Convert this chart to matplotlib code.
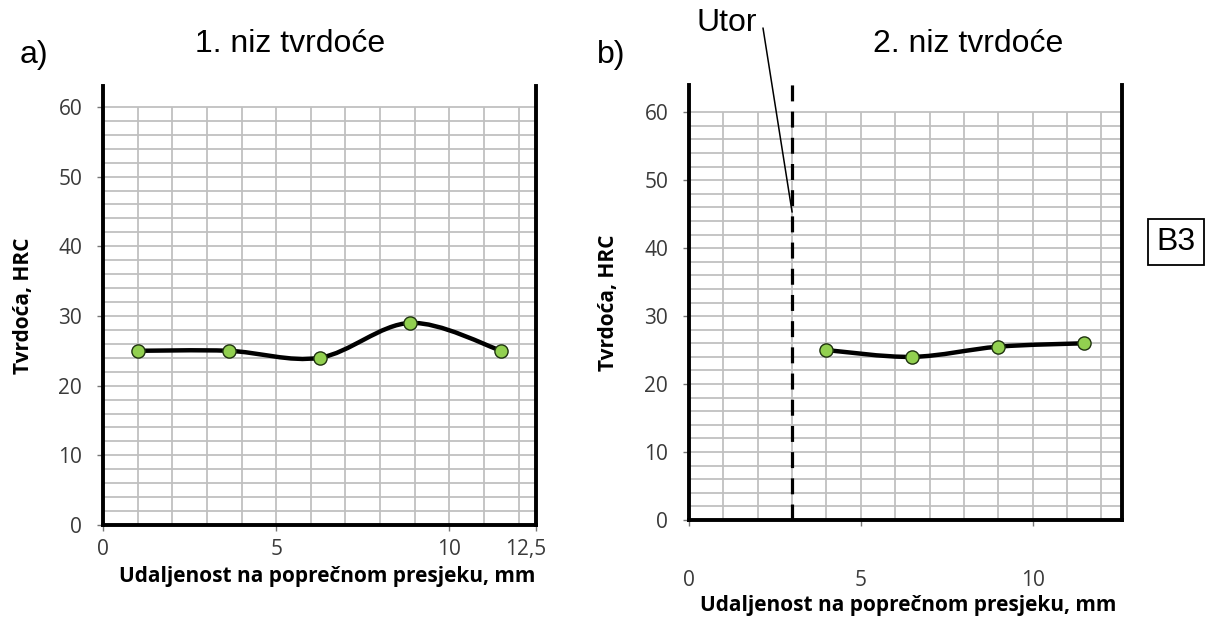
import numpy as np
import matplotlib
matplotlib.use('Agg')
import matplotlib.pyplot as plt
from matplotlib.path import Path
from matplotlib.patches import PathPatch
from matplotlib.transforms import ScaledTranslation

# data
x_a = [1.0, 3.625, 6.25, 8.875, 11.5]
hrc_a = [25, 25, 24, 29, 25]
x_b = [4.0, 6.5, 9.0, 11.5]
hrc_b = [25, 24, 25.5, 26]
utor_x = 3
x_ticks_a = [0, 5, 10, 12.5]
x_tick_labels_a = ['0', '5', '10', '12,5']
x_ticks_b = [0, 5, 10]
y_ticks = [0, 10, 20, 30, 40, 50, 60]

TICK_FONT = 'Open Sans'
TITLE_FONT = 'Liberation Sans'
GREEN = '#92d050'
TICK_SIZE = 15
LABEL_SIZE = 15
TITLE_SIZE = 23


def smooth_path(x, y):
  """Excel-like smoothed line: Catmull-Rom segments as cubic Bezier curves."""
  pts = np.column_stack([x, y]).astype(float)
  verts = [pts[0]]
  codes = [Path.MOVETO]
  n = len(pts)
  for i in range(n - 1):
    p0 = pts[i - 1] if i > 0 else pts[i]
    p1, p2 = pts[i], pts[i + 1]
    p3 = pts[i + 2] if i + 2 < n else pts[i + 1]
    verts += [p1 + (p2 - p0) / 6, p2 - (p3 - p1) / 6, p2]
    codes += [Path.CURVE4] * 3
  return Path(verts, codes)


def style_panel(ax, xmax, ymax):
  ax.set_xlim(0, xmax)
  ax.set_ylim(0, ymax)
  # grid only up to 60, like the excel chart
  xs = np.arange(1, int(xmax) + 1)
  ys = np.arange(2, 61, 2)
  ax.vlines(xs, 0, 60, color='#c0c0c0', lw=1.3, zorder=1)
  ax.hlines(ys, 0, xmax, color='#c0c0c0', lw=1.3, zorder=1)
  for s in ['left', 'bottom', 'right']:
    ax.spines[s].set_linewidth(2.8)
    ax.spines[s].set_color('black')
    ax.spines[s].set_zorder(5)
  ax.spines['top'].set_visible(False)
  ax.set_yticks(y_ticks)
  ax.tick_params(axis='y', length=4, width=1, color='#777777', pad=11,
                 labelsize=TICK_SIZE, labelcolor='#3a3a3a')


def draw_series(ax, x, y):
  ax.add_patch(PathPatch(smooth_path(x, y), fc='none', ec='black', lw=3.2, zorder=3,
                         capstyle='round'))
  ax.plot(x, y, ls='none', marker='o', ms=9.5, mfc=GREEN, mec='#1f3310', mew=1, zorder=4)


fig = plt.figure(figsize=(12.17, 6.19), dpi=100)

# a) panel
ax1 = fig.add_axes([103 / 1217, 1 - 525 / 619, 433 / 1217, 439 / 619])
style_panel(ax1, 12.5, 63)
ax1.set_xticks(x_ticks_a)
ax1.set_xticklabels(x_tick_labels_a)
ax1.tick_params(axis='x', length=4, width=1, color='#777777', pad=6,
                labelsize=TICK_SIZE, labelcolor='#3a3a3a')
for lab in ax1.get_xticklabels() + ax1.get_yticklabels():
  lab.set_fontfamily(TICK_FONT)
# excel drew the last label a little to the left of the axis end
last = ax1.get_xticklabels()[-1]
last.set_transform(last.get_transform() + ScaledTranslation(-0.1, 0, fig.dpi_scale_trans))
draw_series(ax1, x_a, hrc_a)
ax1.set_xlabel('Udaljenost na poprečnom presjeku, mm', fontfamily=TICK_FONT,
               fontweight='bold', fontsize=LABEL_SIZE)
ax1.xaxis.set_label_coords(0.517, -0.093)
ax1.set_ylabel('Tvrdoća, HRC', fontfamily=TICK_FONT, fontweight='bold', fontsize=LABEL_SIZE)
ax1.yaxis.set_label_coords(-0.16, 0.5)

# b) panel
ax2 = fig.add_axes([689 / 1217, 1 - 520 / 619, 433 / 1217, 435 / 619])
style_panel(ax2, 12.6, 64)
ax2.set_xticks(x_ticks_b)
ax2.tick_params(axis='x', length=4, width=1, color='#777777', pad=32,
                labelsize=TICK_SIZE, labelcolor='#3a3a3a')
for lab in ax2.get_xticklabels() + ax2.get_yticklabels():
  lab.set_fontfamily(TICK_FONT)
ax2.plot([utor_x, utor_x], [0, 65], color='black', lw=2.3, ls=(0, (5, 3.2)),
         zorder=4, clip_on=False)
draw_series(ax2, x_b, hrc_b)
ax2.set_xlabel('Udaljenost na poprečnom presjeku, mm', fontfamily=TICK_FONT,
               fontweight='bold', fontsize=LABEL_SIZE)
ax2.xaxis.set_label_coords(0.506, -0.172)
ax2.set_ylabel('Tvrdoća, HRC', fontfamily=TICK_FONT, fontweight='bold', fontsize=LABEL_SIZE)
ax2.yaxis.set_label_coords(-0.162, 0.5)

# leader for "Utor"
ax2.annotate('', xy=(utor_x, 45.3), xycoords='data',
             xytext=(763, 619 - 28), textcoords='figure pixels',
             arrowprops=dict(arrowstyle='-', lw=1.1, color='black', shrinkA=0, shrinkB=0))

# titles and panel letters
fig.text(34 / 1217, 1 - 55 / 619, 'a)', fontfamily=TITLE_FONT, fontsize=TITLE_SIZE,
         ha='center', va='center')
fig.text(290 / 1217, 1 - 44 / 619, '1. niz tvrdoće', fontfamily=TITLE_FONT, fontsize=TITLE_SIZE,
         ha='center', va='center')
fig.text(611 / 1217, 1 - 55 / 619, 'b)', fontfamily=TITLE_FONT, fontsize=TITLE_SIZE,
         ha='center', va='center')
fig.text(968 / 1217, 1 - 44 / 619, '2. niz tvrdoće', fontfamily=TITLE_FONT, fontsize=TITLE_SIZE,
         ha='center', va='center')
fig.text(727 / 1217, 1 - 23 / 619, 'Utor', fontfamily=TITLE_FONT, fontsize=TITLE_SIZE,
         ha='center', va='center')
fig.text(1176 / 1217, 1 - 242 / 619, 'B3', fontfamily=TITLE_FONT, fontsize=TITLE_SIZE,
         ha='center', va='center',
         bbox=dict(boxstyle='square,pad=0.25', fc='white', ec='black', lw=1.3))

plt.savefig('out.png', dpi=100)
